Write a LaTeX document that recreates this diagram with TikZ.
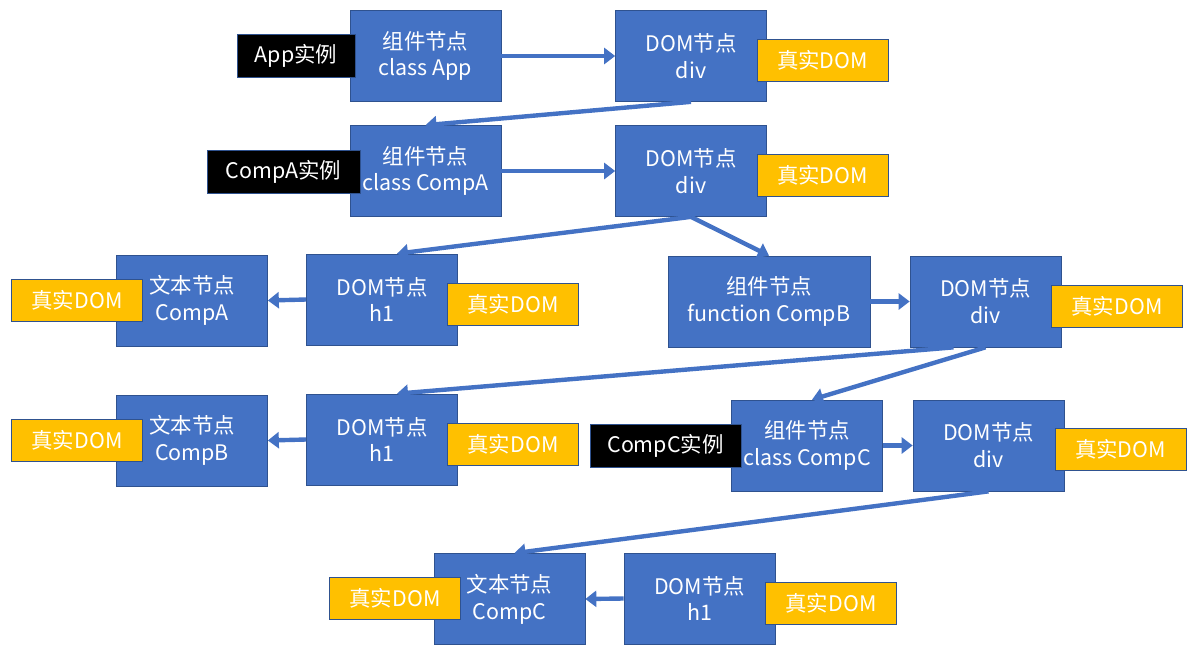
\documentclass[tikz,border=0pt]{standalone}
\usepackage{fontspec}
\setmainfont{Noto Sans CJK SC}
\usetikzlibrary{arrows.meta}
\definecolor{nodeblue}{HTML}{4472C4}
\definecolor{nodeline}{HTML}{2F528F}
\definecolor{realgold}{HTML}{FFC000}

\begin{document}
\begin{tikzpicture}[x=0.02cm, y=-0.02cm,
    vnode/.style={draw=nodeline, fill=nodeblue, text=white, minimum width=3.02cm,
        minimum height=1.82cm, align=center, inner sep=0pt,
        font=\fontsize{12.2}{15.3}\selectfont},
    realdom/.style={draw=nodeline, fill=realgold, text=white, minimum width=2.62cm,
        minimum height=0.84cm, inner sep=0pt, font=\fontsize{12.2}{14}\selectfont},
    inst/.style={draw=nodeline, fill=black, text=white, minimum height=0.86cm,
        inner sep=0pt, font=\fontsize{12.2}{14}\selectfont},
    link/.style={nodeblue, line width=2.5pt, -{Triangle[length=0.22cm, width=0.32cm]}}]

    \useasboundingbox (0,0) rectangle (1190,663);

    % App
    \node[vnode] (appc) at (425.5,56) {组件节点\\class App};
    \node[vnode] (appd) at (691,56) {DOM节点\\div};

    % CompA
    \node[vnode] (ac) at (425.5,171) {组件节点\\class CompA};
    \node[vnode] (ad) at (691,171) {DOM节点\\div};
    \node[vnode] (ta) at (192,300.5) {文本节点\\CompA};
    \node[vnode] (ha) at (382,299.5) {DOM节点\\h1};

    % CompB
    \node[vnode, minimum width=4.04cm] (fb) at (769,301.5) {组件节点\\function CompB};
    \node[vnode] (db) at (985.5,301.5) {DOM节点\\div};
    \node[vnode] (tb) at (192,440.5) {文本节点\\CompB};
    \node[vnode] (hb) at (382,439.5) {DOM节点\\h1};

    % CompC
    \node[vnode] (cc) at (807,445.5) {组件节点\\class CompC};
    \node[vnode] (dc) at (988.5,445.5) {DOM节点\\div};
    \node[vnode] (tc) at (509.5,599) {文本节点\\CompC};
    \node[vnode] (hc) at (699.5,598.5) {DOM节点\\h1};

    % Arrows
    \draw[link] (appc.east) -- (appd.west);
    \draw[link] (appd.south) -- (ac.north);
    \draw[link] (ac.east) -- (ad.west);
    \draw[link] (ad.south) -- ([xshift=0.3cm]ha.north);
    \draw[link] (ad.south) -- (fb.north);
    \draw[link] (ha.west) -- (ta.east);
    \draw[link] (fb.east) -- (db.west);
    \draw[link] ([xshift=-0.64cm]db.south) -- ([xshift=0.3cm]hb.north);
    \draw[link] (db.south) -- ([xshift=0.1cm]cc.north);
    \draw[link] (hb.west) -- (tb.east);
    \draw[link] (cc.east) -- (dc.west);
    \draw[link] (dc.south) -- ([xshift=0.1cm]tc.north);
    \draw[link] (hc.west) -- (tc.east);

    % Instances
    \node[inst, minimum width=2.36cm] (appi) at (296,55.5) {App实例};
    \node[inst, minimum width=3.06cm] (ai) at (283.5,171.5) {CompA实例};
    \node[inst, minimum width=3.02cm] (ci) at (665.5,445.5) {CompC实例};

    % Real DOM
    \foreach \p [count=\i] in {(822.5,60), (822.5,175), (513,304), (77,300),
        (1117,306), (513,444), (77,440), (1120.5,449.5), (395,598), (831,603)}
        \node[realdom] (r\i) at \p {真实DOM};

\end{tikzpicture}
\end{document}
